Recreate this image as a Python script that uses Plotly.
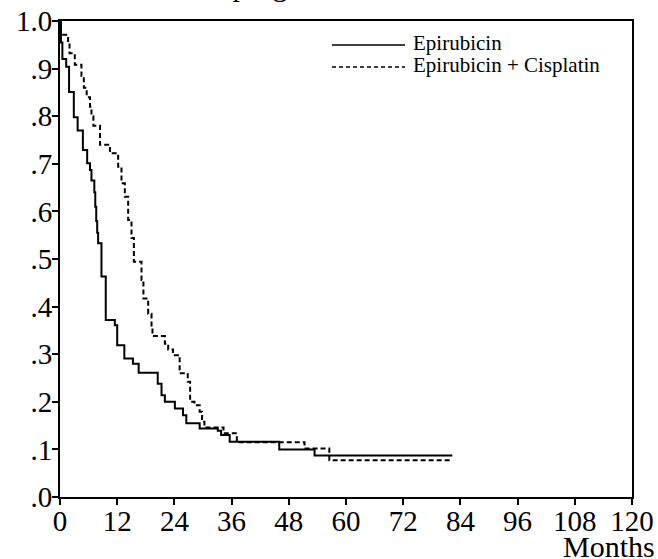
import plotly.graph_objects as go

# ---- data ----
epi_t = [0, 0.2, 0.5, 1.3, 1.9, 2.9, 3.7, 4.8, 5.7, 6.3, 6.6, 7.2, 7.4, 7.6, 7.8, 8.0,
         8.7, 9.6, 11.5, 12.0, 13.5, 15.3, 16.5, 20.5, 21.3, 22.0, 24.1, 25.8, 26.5,
         29.3, 33.1, 33.8, 35.6, 46.0, 53.4, 82.3]
epi_s = [1.0, 0.955, 0.92, 0.904, 0.851, 0.798, 0.770, 0.729, 0.701, 0.687, 0.665, 0.64,
         0.61, 0.58, 0.555, 0.533, 0.463, 0.372, 0.361, 0.319, 0.291, 0.280, 0.261,
         0.238, 0.214, 0.200, 0.186, 0.172, 0.155, 0.144, 0.139, 0.130, 0.116, 0.100,
         0.087, 0.087]

cis_t = [0, 0.1, 1.7, 2.0, 3.1, 4.5, 5.0, 5.6, 6.3, 6.6, 7.0, 8.4, 10.5, 12.2, 12.9,
         13.6, 14.3, 15.0, 15.5, 17.1, 17.5, 18.5, 19.2, 19.4, 22.0, 22.7, 23.7, 25.1,
         26.8, 27.3, 28.2, 29.3, 29.8, 30.3, 34.3, 37.1, 51.3, 56.5, 82.3]
cis_s = [1.0, 0.971, 0.955, 0.932, 0.908, 0.885, 0.86, 0.84, 0.82, 0.80, 0.78, 0.74,
         0.722, 0.694, 0.659, 0.631, 0.582, 0.544, 0.494, 0.456, 0.417, 0.385, 0.358,
         0.338, 0.322, 0.31, 0.298, 0.26, 0.242, 0.200, 0.193, 0.179, 0.158, 0.146,
         0.134, 0.115, 0.102, 0.077, 0.077]

series_names = ["Epirubicin", "Epirubicin + Cisplatin"]
x_ticks = [0, 12, 24, 36, 48, 60, 72, 84, 96, 108, 120]
y_ticks = [0.0, 0.1, 0.2, 0.3, 0.4, 0.5, 0.6, 0.7, 0.8, 0.9, 1.0]
y_tick_labels = [".0", ".1", ".2", ".3", ".4", ".5", ".6", ".7", ".8", ".9", "1.0"]
title_text = "Time to progression"
x_title = "Months"

FONT = "Liberation Serif, Times New Roman, serif"
W, H = 658, 559
ML, MR, MT, MB = 60, 26, 21, 62
PW, PH = W - ML - MR, H - MT - MB

def px_x(p):
    return (p - ML) / PW

def px_y(p):
    return (H - MB - p) / PH

fig = go.Figure()
fig.add_trace(go.Scatter(x=epi_t, y=epi_s, mode="lines", line_shape="hv",
                         line=dict(color="black", width=2), name=series_names[0],
                         showlegend=False))
fig.add_trace(go.Scatter(x=cis_t, y=cis_s, mode="lines", line_shape="hv",
                         line=dict(color="black", width=2, dash="5px,3px"),
                         name=series_names[1], showlegend=False))

# manual legend
shapes = [
    dict(type="line", xref="paper", yref="paper", x0=px_x(332), x1=px_x(405),
         y0=px_y(45), y1=px_y(45), line=dict(color="black", width=1.5)),
    dict(type="line", xref="paper", yref="paper", x0=px_x(332), x1=px_x(405),
         y0=px_y(67), y1=px_y(67), line=dict(color="black", width=1.5, dash="4px,3px")),
]
annotations = [
    dict(text=series_names[0], xref="paper", yref="paper", x=px_x(411), y=px_y(43),
         xanchor="left", yanchor="middle", showarrow=False,
         font=dict(family=FONT, size=21, color="black")),
    dict(text=series_names[1], xref="paper", yref="paper", x=px_x(411), y=px_y(64.5),
         xanchor="left", yanchor="middle", showarrow=False,
         font=dict(family=FONT, size=21, color="black")),
    dict(text=x_title, xref="paper", yref="paper", x=px_x(657), y=px_y(546),
         xanchor="right", yanchor="middle", showarrow=False,
         font=dict(family=FONT, size=30, color="black")),
    dict(text=title_text, xref="paper", yref="paper", x=px_x(130), y=px_y(-15),
         xanchor="left", yanchor="middle", showarrow=False,
         font=dict(family=FONT, size=30, color="black")),
]

fig.update_layout(
    width=W, height=H,
    margin=dict(l=ML, r=MR, t=MT, b=MB, pad=0, autoexpand=False),
    paper_bgcolor="white", plot_bgcolor="white",
    font=dict(family=FONT, size=29, color="black"),
    shapes=shapes, annotations=annotations,
    showlegend=False,
)
fig.update_xaxes(range=[0, 120], tickvals=x_ticks, ticktext=[str(v) for v in x_ticks],
                 showgrid=False, zeroline=False, showline=True, linecolor="black",
                 linewidth=2, mirror=True, ticks="outside", ticklen=6, tickwidth=1.5,
                 tickcolor="black", tickfont=dict(family=FONT, size=29), automargin=False,
                 ticklabelstandoff=-9)
fig.update_yaxes(range=[0, 1.0], tickvals=y_ticks, ticktext=y_tick_labels,
                 showgrid=False, zeroline=False, showline=True, linecolor="black",
                 linewidth=2, mirror=True, ticks="outside", ticklen=6, tickwidth=1.5,
                 tickcolor="black", tickfont=dict(family=FONT, size=29), automargin=False,
                 ticklabelstandoff=-6)

fig.write_html("out.html", config={"displayModeBar": False},
               post_script="document.body.style.margin='0';document.body.style.overflow='hidden';")
